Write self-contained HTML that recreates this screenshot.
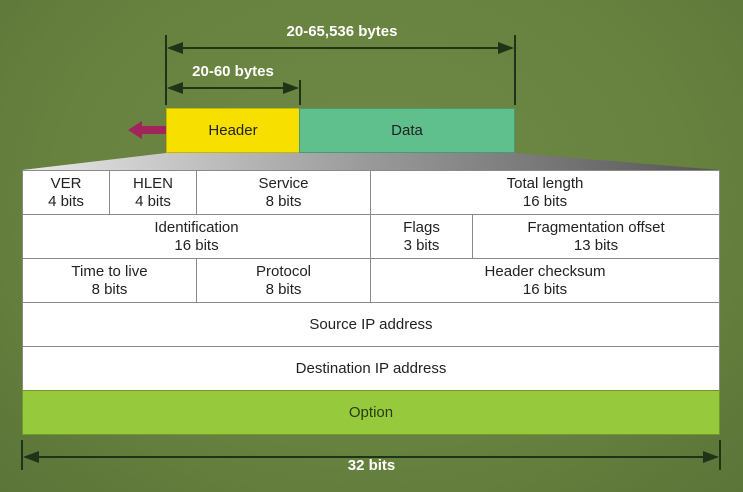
<!DOCTYPE html>
<html><head><style>
body{margin:0;width:743px;height:492px;overflow:hidden;background:radial-gradient(ellipse at 50% 40%,#6e8a46 0%,#67823f 60%,#5b7438 100%);font-family:"Liberation Sans",sans-serif;}
.a{position:absolute}
.c{position:absolute;background:#fff;border:1px solid #8a8a8a;box-sizing:border-box;display:flex;flex-direction:column;align-items:center;justify-content:center;font-size:15px;line-height:18px;color:#222;text-align:center}
.w{color:#fff;font-weight:bold;font-size:15px;text-align:center}
</style></head><body>
<svg class="a" style="left:0;top:0" width="743" height="492">
<defs><linearGradient id="g" x1="0" x2="1"><stop offset="0" stop-color="#e8e8e8"/><stop offset="0.5" stop-color="#999"/><stop offset="1" stop-color="#555"/></linearGradient>
<marker id="m" markerWidth="8" markerHeight="8" refX="7" refY="4" orient="auto-start-reverse"><path d="M0,1 L8,4 L0,7z" fill="#1f3318"/></marker></defs>
<polygon points="166,153 515,153 720,170 22,170" fill="url(#g)"/>
<g stroke="#1f3318" stroke-width="2">
<line x1="166" y1="35" x2="166" y2="105"/><line x1="515" y1="35" x2="515" y2="105"/><line x1="300" y1="80" x2="300" y2="105"/>
<line x1="169" y1="48" x2="512" y2="48" marker-start="url(#m)" marker-end="url(#m)"/>
<line x1="169" y1="88" x2="297" y2="88" marker-start="url(#m)" marker-end="url(#m)"/>
<line x1="22" y1="440" x2="22" y2="470"/><line x1="720" y1="440" x2="720" y2="470"/>
<line x1="25" y1="457" x2="717" y2="457" marker-start="url(#m)" marker-end="url(#m)"/>
</g>
<path d="M128,130 L142,121 L142,126 L166,126 L166,134 L142,134 L142,139z" fill="#a3245d"/>
</svg>
<div class="a w" style="left:242px;top:23px;width:200px">20-65,536 bytes</div>
<div class="a w" style="left:166px;top:63px;width:134px">20-60 bytes</div>
<div class="a w" style="left:300px;top:457px;width:143px">32 bits</div>
<div class="c" style="left:166px;top:108px;width:134px;height:45px;background:#f7e000;border-color:#c9b400">Header</div>
<div class="c" style="left:299px;top:108px;width:216px;height:45px;background:#5fc08d;border-color:#4a9a70">Data</div>
<div class="c" style="left:22px;top:170px;width:88px;height:45px"><span>VER</span><span>4 bits</span></div>
<div class="c" style="left:109px;top:170px;width:88px;height:45px"><span>HLEN</span><span>4 bits</span></div>
<div class="c" style="left:196px;top:170px;width:175px;height:45px"><span>Service</span><span>8 bits</span></div>
<div class="c" style="left:370px;top:170px;width:350px;height:45px"><span>Total length</span><span>16 bits</span></div>
<div class="c" style="left:22px;top:214px;width:349px;height:45px"><span>Identification</span><span>16 bits</span></div>
<div class="c" style="left:370px;top:214px;width:103px;height:45px"><span>Flags</span><span>3 bits</span></div>
<div class="c" style="left:472px;top:214px;width:248px;height:45px"><span>Fragmentation offset</span><span>13 bits</span></div>
<div class="c" style="left:22px;top:258px;width:175px;height:45px"><span>Time to live</span><span>8 bits</span></div>
<div class="c" style="left:196px;top:258px;width:175px;height:45px"><span>Protocol</span><span>8 bits</span></div>
<div class="c" style="left:370px;top:258px;width:350px;height:45px"><span>Header checksum</span><span>16 bits</span></div>
<div class="c" style="left:22px;top:302px;width:698px;height:45px">Source IP address</div>
<div class="c" style="left:22px;top:346px;width:698px;height:45px">Destination IP address</div>
<div class="c" style="left:22px;top:390px;width:698px;height:45px;background:#97c93c;border-color:#6f9a2a;color:#2a3a14">Option</div>
</body></html>
